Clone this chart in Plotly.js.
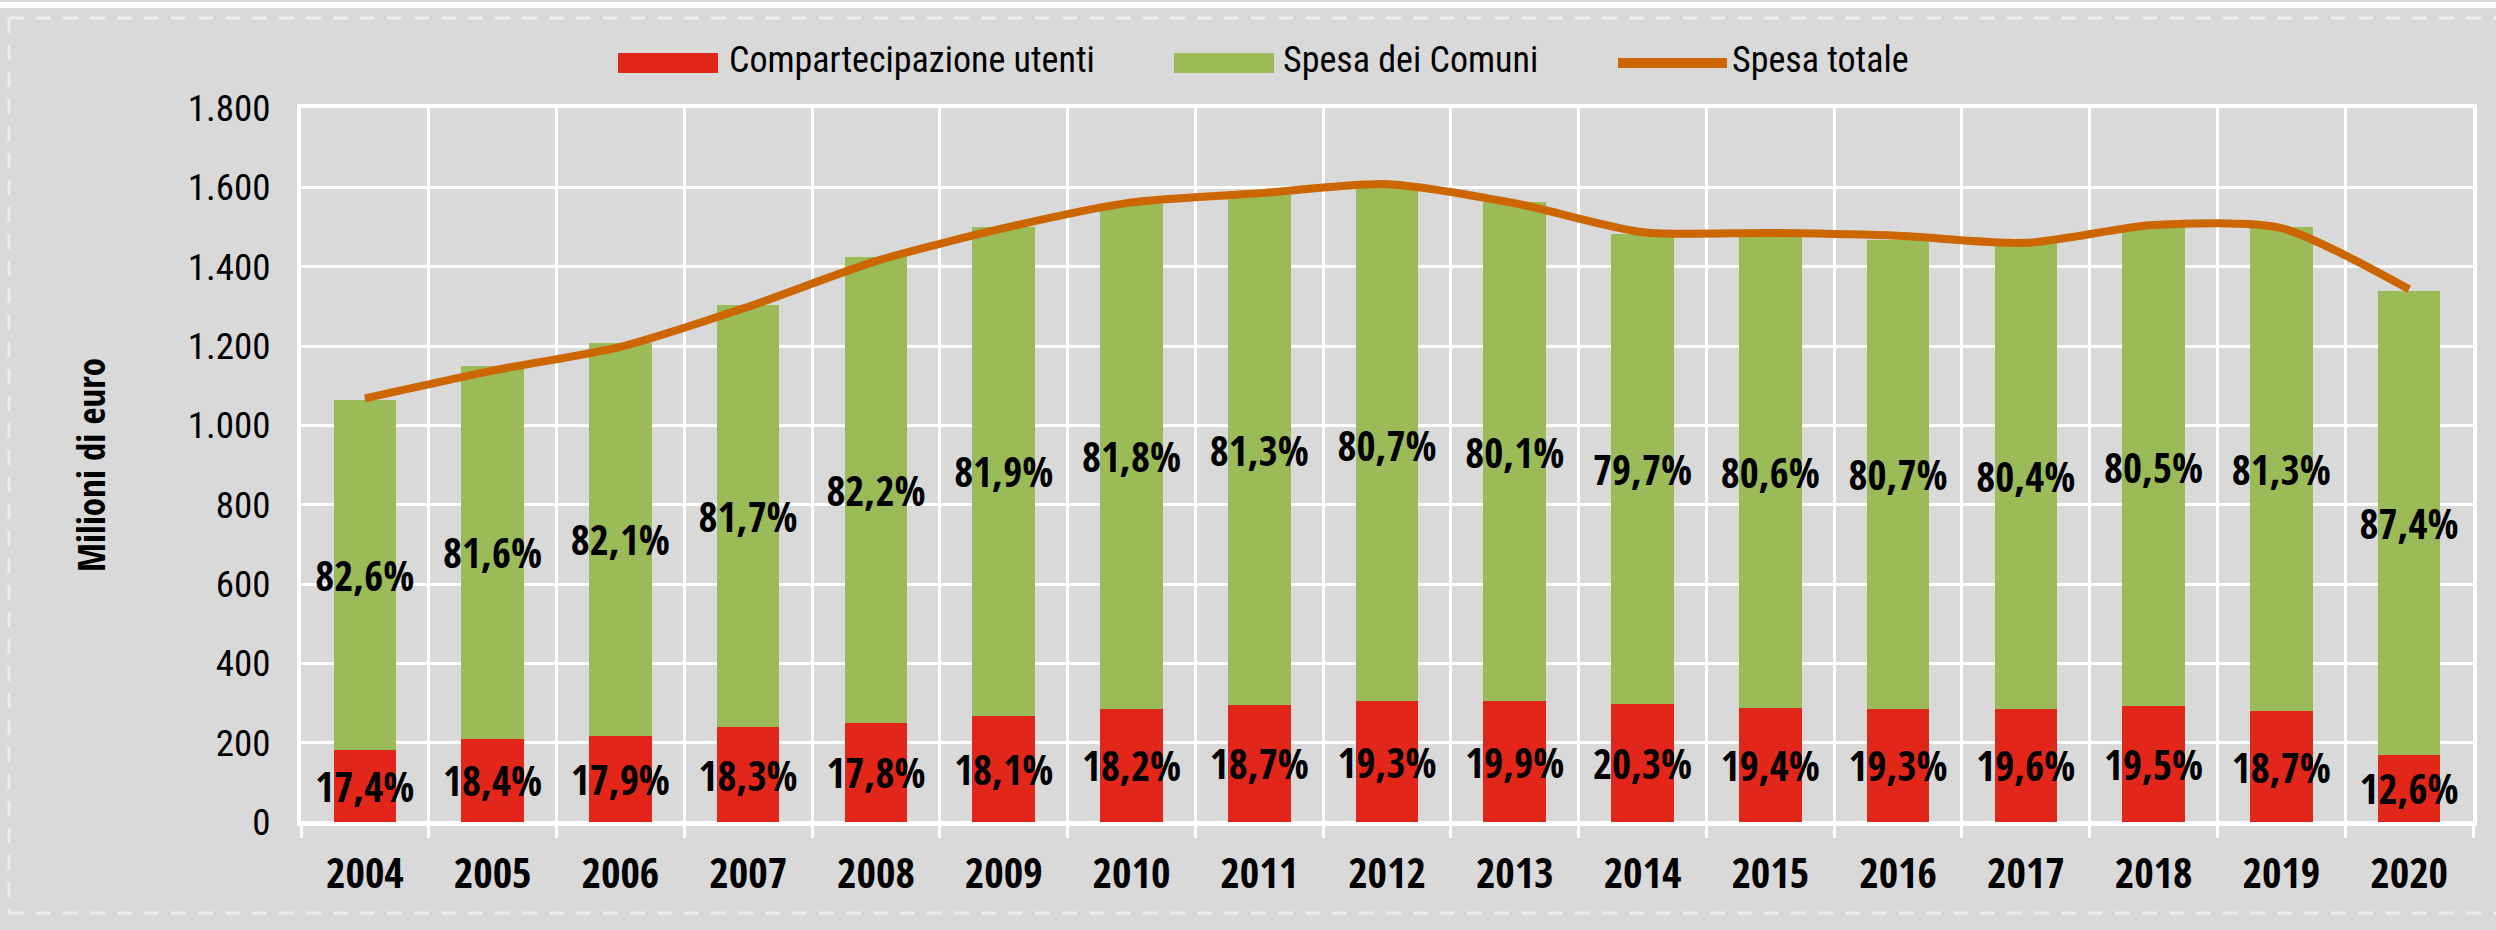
<!DOCTYPE html>
<html>
<head>
<meta charset="utf-8">
<script src="https://cdn.plot.ly/plotly-3.0.1.min.js"></script>
<style>
html,body{margin:0;padding:0;background:#d9d9d9;}
#chart{width:2496px;height:930px;}
</style>
</head>
<body>
<div id="chart"></div>
<script>
// ---- data ----
const years = ["2004","2005","2006","2007","2008","2009","2010","2011","2012","2013","2014","2015","2016","2017","2018","2019","2020"];
const compartecipazioneUtenti = [182, 210, 217, 239, 250, 268, 286, 295, 305, 305, 297, 287, 285, 286, 293, 279, 169];
const spesaDeiComuni = [883, 940, 991, 1064, 1175, 1232, 1271, 1286, 1293, 1257, 1186, 1190, 1183, 1173, 1206, 1221, 1170];
const spesaTotale = [1068, 1138, 1198, 1299, 1414, 1497, 1562, 1585, 1608, 1560, 1487, 1485, 1478, 1460, 1505, 1497, 1343];
const pctCompartecipazione = ["17,4%","18,4%","17,9%","18,3%","17,8%","18,1%","18,2%","18,7%","19,3%","19,9%","20,3%","19,4%","19,3%","19,6%","19,5%","18,7%","12,6%"];
const pctComuni = ["82,6%","81,6%","82,1%","81,7%","82,2%","81,9%","81,8%","81,3%","80,7%","80,1%","79,7%","80,6%","80,7%","80,4%","80,5%","81,3%","87,4%"];
const seriesNames = ["Compartecipazione utenti","Spesa dei Comuni","Spesa totale"];
const yAxisTitle = "Milioni di euro";

// ---- styling ----
const RED = "#e2261a", GREEN = "#9bbb59", ORANGE = "#cc6600", BG = "#d9d9d9";
const FONT = '"Roboto Condensed", "Liberation Sans", sans-serif';
const FONT_BOLD = '"Open Sans Condensed", "Roboto Condensed", sans-serif';
const W = 2496, H = 930, ML = 301, MR = 23, MT = 108, MB = 108;
const PW = W - ML - MR, PH = H - MT - MB;
const px = x => (x - ML) / PW;          // pixel x -> paper x
const py = y => (H - MB - y) / PH;      // pixel y (from top) -> paper y

const labelFont = {family: FONT_BOLD, size: 41, color: "#000", weight: "bold"};

const traces = [
  {
    type: "bar", x: years, y: compartecipazioneUtenti, name: seriesNames[0],
    marker: {color: RED, line: {width: 0}},
    text: pctCompartecipazione, textposition: "inside", insidetextanchor: "middle",
    textangle: 0, constraintext: "none", cliponaxis: false,
    textfont: labelFont, insidetextfont: labelFont,
    showlegend: false, hoverinfo: "skip"
  },
  {
    type: "bar", x: years, y: spesaDeiComuni, name: seriesNames[1],
    marker: {color: GREEN, line: {width: 0}},
    text: pctComuni, textposition: "inside", insidetextanchor: "middle",
    textangle: 0, constraintext: "none", cliponaxis: false,
    textfont: labelFont, insidetextfont: labelFont,
    showlegend: false, hoverinfo: "skip"
  },
  {
    type: "scatter", mode: "lines", x: years, y: spesaTotale, name: seriesNames[2],
    line: {color: ORANGE, width: 8, shape: "spline", smoothing: 0.7},
    showlegend: false, hoverinfo: "skip", cliponaxis: false
  }
];

// custom legend (large swatches like the original)
const legendItems = [
  {kind: "rect", color: RED, x0: 618, x1: 718, tx: 727, label: seriesNames[0]},
  {kind: "rect", color: GREEN, x0: 1174, x1: 1274, tx: 1281, label: seriesNames[1]},
  {kind: "line", color: ORANGE, x0: 1618, x1: 1727, tx: 1730, label: seriesNames[2]}
];
const shapes = [
  // top white band
  {type: "rect", xref: "paper", yref: "paper", x0: px(0), x1: px(W), y0: py(8), y1: py(2),
   fillcolor: "#ffffff", line: {width: 0}, layer: "below"},
  // dashed frame
  {type: "line", xref: "paper", yref: "paper", x0: px(9), x1: px(W), y0: py(18), y1: py(18),
   line: {color: "#ececec", width: 3, dash: "15px,12px"}},
  {type: "line", xref: "paper", yref: "paper", x0: px(9), x1: px(9), y0: py(18), y1: py(913),
   line: {color: "#ececec", width: 3, dash: "15px,12px"}},
  {type: "line", xref: "paper", yref: "paper", x0: px(9), x1: px(W), y0: py(913), y1: py(913),
   line: {color: "#ececec", width: 3, dash: "15px,12px"}}
];
const annotations = [];
legendItems.forEach(it => {
  if (it.kind === "rect") {
    shapes.push({type: "rect", xref: "paper", yref: "paper", x0: px(it.x0), x1: px(it.x1),
      y0: py(73), y1: py(53), fillcolor: it.color, line: {width: 0}});
  } else {
    shapes.push({type: "line", xref: "paper", yref: "paper", x0: px(it.x0), x1: px(it.x1),
      y0: py(63), y1: py(63), line: {color: it.color, width: 10}});
  }
  annotations.push({xref: "paper", yref: "paper", x: px(it.tx), y: py(60), xanchor: "left", yanchor: "middle",
    text: it.label, showarrow: false, font: {family: FONT, size: 36, color: "#000"}});
});

const layout = {
  width: W, height: H,
  margin: {l: ML, r: MR, t: MT, b: MB, pad: 0},
  paper_bgcolor: BG, plot_bgcolor: BG,
  barmode: "stack", bargap: 0.51,
  separators: ",.",
  showlegend: false,
  xaxis: {
    type: "category", tickson: "boundaries",
    showgrid: true, gridcolor: "#ffffff", gridwidth: 3,
    ticks: "outside", ticklen: 12, tickwidth: 3, tickcolor: "#ffffff",
    showline: true, linecolor: "#ffffff", linewidth: 4, mirror: true,
    tickfont: {family: FONT_BOLD, size: 42, color: "#000", weight: "bold"},
    ticklabelstandoff: 12, automargin: false
  },
  yaxis: {
    range: [0, 1800], tick0: 0, dtick: 200, tickformat: ",", separatethousands: true,
    showgrid: true, gridcolor: "#ffffff", gridwidth: 3,
    zeroline: true, zerolinecolor: "#ffffff", zerolinewidth: 3,
    showline: true, linecolor: "#ffffff", linewidth: 4, mirror: true,
    ticks: "", tickfont: {family: FONT, size: 37, color: "#000"},
    ticklabelstandoff: 19, automargin: false,
    title: {text: yAxisTitle, standoff: 72, font: {family: FONT_BOLD, size: 37, color: "#000", weight: "bold"}}
  },
  shapes: shapes,
  annotations: annotations
};

Plotly.newPlot("chart", traces, layout, {displayModeBar: false, staticPlot: true});
</script>
</body>
</html>
